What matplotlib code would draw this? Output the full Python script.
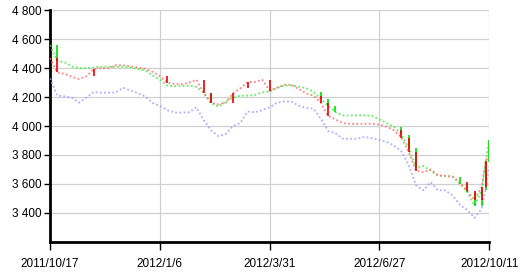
import matplotlib
matplotlib.use("Agg")
import matplotlib.pyplot as plt
import numpy as np

# 交易日序号（每4个交易日取一个值，末尾加密）
days = [0, 4, 8, 12, 16, 20, 24, 28, 32, 36, 40, 44, 48, 52, 56, 60,
        64, 68, 72, 76, 80, 84, 88, 92, 96, 100, 104, 108, 112, 116, 120,
        124, 128, 132, 136, 140, 144, 148, 152, 156, 160, 164, 168, 172, 176, 180,
        184, 188, 192, 196, 200, 204, 208, 212, 216, 220, 224, 228, 232, 236, 238, 240]

upper = [4560, 4450, 4440, 4410, 4400, 4400, 4405, 4410, 4410, 4410, 4410, 4405, 4395, 4385, 4350, 4320,
         4280, 4275, 4277, 4280, 4270, 4230, 4160, 4133, 4170, 4195, 4210, 4210, 4215, 4232, 4237,
         4262, 4280, 4280, 4272, 4262, 4235, 4185, 4140, 4095, 4073, 4073, 4073, 4073, 4070, 4045,
         4020, 3995, 3940, 3850, 3710, 3725, 3690, 3655, 3655, 3650, 3600, 3545, 3450, 3560, 3750, 3900]

middle = [4470, 4370, 4360, 4340, 4325, 4345, 4395, 4400, 4400, 4420, 4420, 4412, 4405, 4395, 4375, 4345,
          4300, 4290, 4290, 4300, 4320, 4230, 4160, 4150, 4160, 4225, 4260, 4305, 4305, 4320, 4245,
          4265, 4285, 4285, 4255, 4225, 4210, 4160, 4070, 4045, 4020, 4015, 4015, 4015, 4015, 4010,
          3995, 3970, 3920, 3820, 3690, 3680, 3700, 3660, 3655, 3650, 3610, 3550, 3490, 3580, 3760, 3790]

lower = [4330, 4210, 4205, 4195, 4162, 4198, 4235, 4230, 4230, 4232, 4265, 4245, 4228, 4205, 4160, 4140,
         4110, 4093, 4093, 4095, 4130, 4040, 3970, 3930, 3945, 4000, 4020, 4100, 4095, 4110, 4130,
         4160, 4170, 4168, 4140, 4125, 4120, 4050, 3965, 3950, 3912, 3912, 3912, 3925, 3915, 3905,
         3890, 3865, 3825, 3730, 3590, 3555, 3612, 3555, 3555, 3520, 3455, 3420, 3365, 3430, 3560, 3720]

tick_pos = [0, 60, 120, 180, 240]
tick_labels = ["2011/10/17", "2012/1/6", "2012/3/31", "2012/6/27", "2012/10/11"]
y_ticks = [3400, 3600, 3800, 4000, 4200, 4400, 4600, 4800]

plt.rcParams['font.family'] = ['Liberation Sans', 'DejaVu Sans']

fig = plt.figure(figsize=(5.24, 2.77), dpi=100)
ax = fig.add_axes([50 / 524, 35.3 / 277, 439.2 / 524, 231.4 / 277])

series = [
    (upper, "#44ee44", "#00dd00", True),
    (middle, "#ff7070", "#ee0000", True),
    (lower, "#a0a0ff", "#5555ee", False),
]
for vals, light, dark, bars in series:
    vals = np.array(vals)
    ax.plot(days, vals, color=light, lw=1.3, linestyle=(0, (1, 1.3)), alpha=0.85, zorder=3)
    if bars:
        # 变化明显处画出竖线，模拟K线
        diff = np.abs(np.diff(vals))
        big = diff > 40
        ax.vlines(np.array(days[1:])[big], vals[:-1][big], vals[1:][big],
                  color=dark, lw=1.2, zorder=4)

ax.set_xlim(0, 240)
ax.set_ylim(3200, 4800)
ax.set_xticks(tick_pos)
ax.set_xticklabels(tick_labels, fontsize=8.5)
ax.set_yticks(y_ticks)
ax.set_yticklabels([f"{v:,}".replace(",", " ") for v in y_ticks], fontsize=8.5)

ax.grid(True, color="#d0d0d0", lw=0.9)
ax.set_axisbelow(True)
for s in ["top", "right"]:
    ax.spines[s].set_visible(False)
ax.spines["left"].set_linewidth(2)
ax.spines["bottom"].set_linewidth(2)
ax.tick_params(axis="y", length=4, width=1, pad=2)
ax.tick_params(axis="x", length=6, width=1, pad=6)

fig.savefig("out.png", dpi=100)
